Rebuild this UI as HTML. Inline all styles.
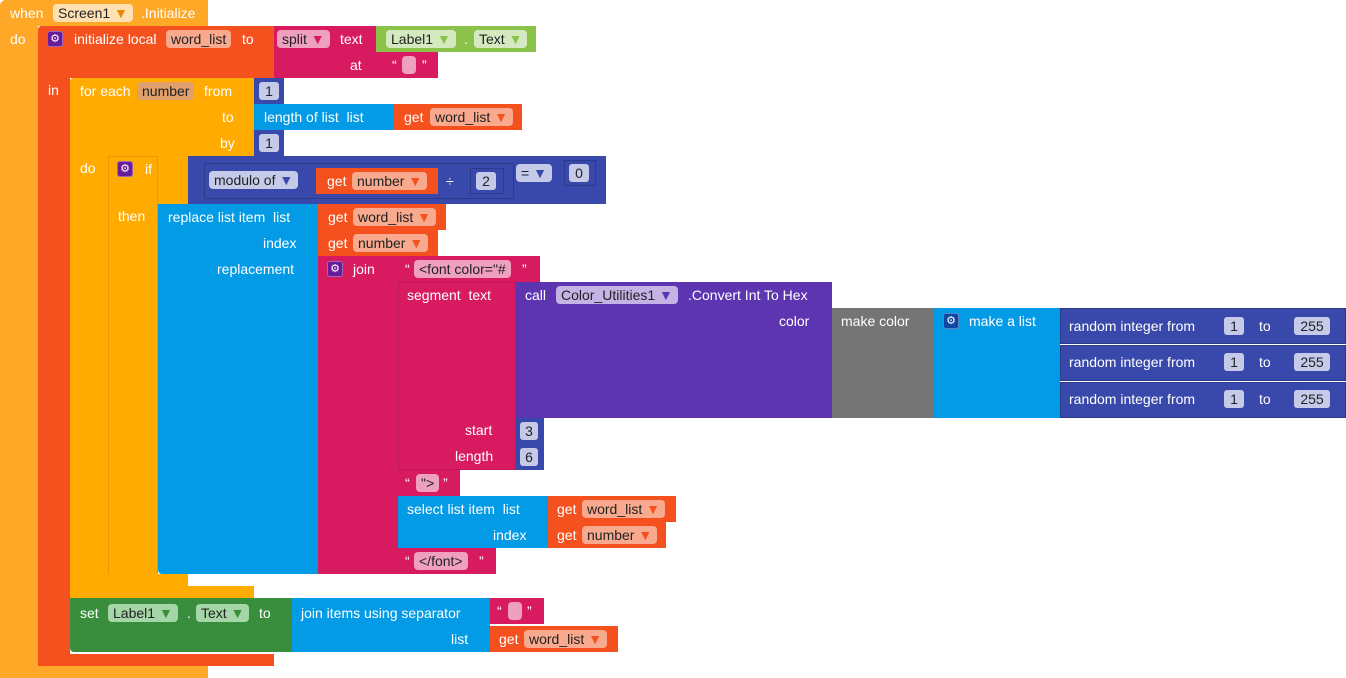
<!DOCTYPE html>
<html><head><meta charset="utf-8"><style>
body{margin:0;width:1346px;height:678px;background:#fff;position:relative;overflow:hidden;font-family:"Liberation Sans",sans-serif;font-size:14px;color:#fff}
.b{position:absolute;box-sizing:border-box}
.t{position:absolute;white-space:nowrap;line-height:16px}
.f{position:absolute;white-space:nowrap;line-height:18px;height:18px;border-radius:4px;padding:0 5px;color:#222;box-sizing:border-box}
.n{position:absolute;height:18px;line-height:18px;border-radius:3px;background:#c5cae9;color:#222;text-align:center;font-size:14px}
.g{position:absolute;width:16px;height:16px;border-radius:3px;background:#6a1b9a;border:1px solid #fff5;box-sizing:border-box;color:#fff;font-size:11px;line-height:14px;text-align:center}
</style></head><body>
<!-- event -->
<div class="b" style="left:0;top:0;width:208px;height:26px;background:#FFA726;border-radius:6px 0 0 0"></div>
<div class="b" style="left:0;top:0;width:38px;height:678px;background:#FFA726;border-radius:6px 0 0 6px"></div>
<div class="b" style="left:0;top:666px;width:208px;height:12px;background:#FFA726"></div>
<span class="t" style="left:10px;top:5px">when</span>
<span class="f" style="left:53px;top:4px;background:#FFE0B2">Screen1 <span style="color:#e58a00">▼</span></span>
<span class="t" style="left:141px;top:5px">.Initialize</span>
<span class="t" style="left:10px;top:31px">do</span>
<!-- init local -->
<div class="b" style="left:38px;top:26px;width:236px;height:52px;background:#F4511E;border-radius:4px 0 0 0"></div>
<div class="b" style="left:38px;top:26px;width:32px;height:640px;background:#F4511E;border-radius:4px 0 0 4px"></div>
<div class="b" style="left:38px;top:654px;width:236px;height:12px;background:#F4511E"></div>
<div class="g" style="left:47px;top:31px">⚙</div>
<span class="t" style="left:74px;top:31px">initialize local</span>
<span class="f" style="left:166px;top:30px;background:#f8a98e">word_list</span>
<span class="t" style="left:242px;top:31px">to</span>
<span class="t" style="left:48px;top:82px">in</span>
<!-- split -->
<div class="b" style="left:274px;top:26px;width:102px;height:26px;background:#D81B60"></div>
<div class="b" style="left:274px;top:52px;width:164px;height:26px;background:#D81B60"></div>
<span class="f" style="left:277px;top:30px;background:#f0a0bf">split <span style="color:#D81B60">▼</span></span>
<span class="t" style="left:340px;top:31px">text</span>
<span class="t" style="left:350px;top:57px">at</span>
<span class="t" style="left:392px;top:57px">“</span><span class="f" style="left:402px;top:56px;width:14px;background:#f0a0bf"></span><span class="t" style="left:422px;top:57px">”</span>
<div class="b" style="left:376px;top:26px;width:160px;height:26px;background:#8BC34A"></div>
<span class="f" style="left:386px;top:30px;background:#d4e9bf">Label1 <span style="color:#8BC34A">▼</span></span>
<span class="t" style="left:464px;top:31px;color:#fff">.</span>
<span class="f" style="left:474px;top:30px;background:#d4e9bf">Text <span style="color:#8BC34A">▼</span></span>
<!-- for each -->
<div class="b" style="left:70px;top:78px;width:184px;height:78px;background:#FFAB00;border-radius:4px 0 0 0"></div>
<div class="b" style="left:70px;top:78px;width:38px;height:520px;background:#FFAB00;border-radius:4px 0 0 4px"></div>
<div class="b" style="left:70px;top:586px;width:184px;height:12px;background:#FFAB00"></div>
<span class="t" style="left:80px;top:83px">for each</span>
<span class="f" style="left:137px;top:82px;background:#e0a06c">number</span>
<span class="t" style="left:204px;top:83px">from</span>
<span class="t" style="left:222px;top:109px">to</span>
<span class="t" style="left:220px;top:135px">by</span>
<span class="t" style="left:80px;top:160px">do</span>
<div class="b" style="left:254px;top:78px;width:30px;height:26px;background:#3949AB"></div><span class="n" style="left:259px;top:82px;width:20px">1</span>
<div class="b" style="left:254px;top:130px;width:30px;height:26px;background:#3949AB"></div><span class="n" style="left:259px;top:134px;width:20px">1</span>
<div class="b" style="left:254px;top:104px;width:140px;height:26px;background:#039BE5"></div>
<span class="t" style="left:264px;top:109px">length of list&nbsp; list</span>
<div class="b" style="left:394px;top:104px;width:128px;height:26px;background:#F4511E"></div>
<span class="t" style="left:404px;top:109px">get</span><span class="f" style="left:430px;top:108px;background:#f8a98e">word_list <span style="color:#F4511E">▼</span></span>
<!-- if -->
<div class="b" style="left:108px;top:156px;width:80px;height:48px;background:#FFAB00;border-radius:4px 0 0 0"></div>
<div class="b" style="left:108px;top:156px;width:50px;height:430px;background:#FFAB00;border:1px solid #e89a00"></div>
<div class="b" style="left:108px;top:574px;width:80px;height:12px;background:#FFAB00"></div>
<div class="g" style="left:117px;top:161px">⚙</div>
<span class="t" style="left:145px;top:161px">if</span>
<span class="t" style="left:118px;top:208px">then</span>
<div class="b" style="left:188px;top:156px;width:418px;height:48px;background:#3949AB"></div>
<div class="b" style="left:204px;top:163px;width:310px;height:36px;background:#3949AB;border:1px solid #2c3a8c"></div>
<span class="f" style="left:209px;top:171px;background:#c5cae9">modulo of <span style="color:#3949AB">▼</span></span>
<div class="b" style="left:316px;top:168px;width:122px;height:26px;background:#F4511E"></div>
<span class="t" style="left:327px;top:173px">get</span><span class="f" style="left:352px;top:172px;background:#f8a98e">number <span style="color:#F4511E">▼</span></span>
<span class="t" style="left:446px;top:173px">÷</span>
<div class="b" style="left:470px;top:168px;width:34px;height:26px;border:1px solid #2c3a8c"></div><span class="n" style="left:476px;top:172px;width:20px">2</span>
<span class="f" style="left:516px;top:164px;background:#c5cae9">= <span style="color:#3949AB">▼</span></span>
<div class="b" style="left:564px;top:160px;width:32px;height:26px;border:1px solid #2c3a8c"></div><span class="n" style="left:569px;top:164px;width:20px">0</span>
<!-- replace -->
<div class="b" style="left:158px;top:204px;width:160px;height:370px;background:#039BE5;border-radius:0 0 0 4px"></div>
<span class="t" style="left:168px;top:209px">replace list item&nbsp; list</span>
<span class="t" style="left:263px;top:235px">index</span>
<span class="t" style="left:217px;top:261px">replacement</span>
<div class="b" style="left:318px;top:204px;width:128px;height:26px;background:#F4511E"></div>
<span class="t" style="left:328px;top:209px">get</span><span class="f" style="left:353px;top:208px;background:#f8a98e">word_list <span style="color:#F4511E">▼</span></span>
<div class="b" style="left:318px;top:230px;width:120px;height:26px;background:#F4511E"></div>
<span class="t" style="left:328px;top:235px">get</span><span class="f" style="left:353px;top:234px;background:#f8a98e">number <span style="color:#F4511E">▼</span></span>
<!-- join -->
<div class="b" style="left:318px;top:256px;width:80px;height:318px;background:#D81B60"></div>
<div class="g" style="left:327px;top:261px">⚙</div>
<span class="t" style="left:353px;top:261px">join</span>
<div class="b" style="left:398px;top:256px;width:142px;height:26px;background:#D81B60"></div>
<span class="t" style="left:405px;top:261px">“</span><span class="f" style="left:414px;top:260px;background:#f0a0bf">&lt;font color="#</span><span class="t" style="left:522px;top:261px">”</span>
<div class="b" style="left:398px;top:282px;width:118px;height:188px;background:#D81B60;border:1px solid #c2185b"></div>
<span class="t" style="left:407px;top:287px">segment&nbsp; text</span>
<span class="t" style="left:465px;top:422px">start</span>
<span class="t" style="left:455px;top:448px">length</span>
<div class="b" style="left:516px;top:418px;width:28px;height:26px;background:#3949AB"></div><span class="n" style="left:520px;top:422px;width:18px">3</span>
<div class="b" style="left:516px;top:444px;width:28px;height:26px;background:#3949AB"></div><span class="n" style="left:520px;top:448px;width:18px">6</span>
<!-- call -->
<div class="b" style="left:516px;top:282px;width:316px;height:136px;background:#5E35B1"></div>
<span class="t" style="left:525px;top:287px">call</span>
<span class="f" style="left:556px;top:286px;background:#c5b3e6">Color_Utilities1 <span style="color:#5E35B1">▼</span></span>
<span class="t" style="left:688px;top:287px">.Convert Int To Hex</span>
<span class="t" style="left:779px;top:313px">color</span>
<div class="b" style="left:832px;top:308px;width:102px;height:110px;background:#757575"></div>
<span class="t" style="left:841px;top:313px">make color</span>
<div class="b" style="left:934px;top:308px;width:126px;height:110px;background:#039BE5"></div>
<div class="g" style="left:943px;top:313px;background:#0d47a1">⚙</div>
<span class="t" style="left:969px;top:313px">make a list</span>
<div class="b" style="left:1060px;top:308px;width:286px;height:36px;background:#3949AB;border:1px solid #2c3a8c"></div>
<div class="b" style="left:1060px;top:345px;width:286px;height:36px;background:#3949AB;border:1px solid #2c3a8c"></div>
<div class="b" style="left:1060px;top:382px;width:286px;height:36px;background:#3949AB;border:1px solid #2c3a8c"></div>
<span class="t" style="left:1069px;top:318px">random integer from</span><span class="n" style="left:1224px;top:317px;width:20px">1</span><span class="t" style="left:1259px;top:318px">to</span><span class="n" style="left:1294px;top:317px;width:36px">255</span>
<span class="t" style="left:1069px;top:354px">random integer from</span><span class="n" style="left:1224px;top:353px;width:20px">1</span><span class="t" style="left:1259px;top:354px">to</span><span class="n" style="left:1294px;top:353px;width:36px">255</span>
<span class="t" style="left:1069px;top:391px">random integer from</span><span class="n" style="left:1224px;top:390px;width:20px">1</span><span class="t" style="left:1259px;top:391px">to</span><span class="n" style="left:1294px;top:390px;width:36px">255</span>
<!-- ">" -->
<div class="b" style="left:398px;top:470px;width:62px;height:26px;background:#D81B60"></div>
<span class="t" style="left:405px;top:475px">“</span><span class="f" style="left:416px;top:474px;background:#f0a0bf">"&gt;</span><span class="t" style="left:443px;top:475px">”</span>
<div class="b" style="left:398px;top:496px;width:150px;height:52px;background:#039BE5"></div>
<span class="t" style="left:407px;top:501px">select list item&nbsp; list</span>
<span class="t" style="left:493px;top:527px">index</span>
<div class="b" style="left:548px;top:496px;width:128px;height:26px;background:#F4511E"></div>
<span class="t" style="left:557px;top:501px">get</span><span class="f" style="left:582px;top:500px;background:#f8a98e">word_list <span style="color:#F4511E">▼</span></span>
<div class="b" style="left:548px;top:522px;width:118px;height:26px;background:#F4511E"></div>
<span class="t" style="left:557px;top:527px">get</span><span class="f" style="left:582px;top:526px;background:#f8a98e">number <span style="color:#F4511E">▼</span></span>
<div class="b" style="left:398px;top:548px;width:98px;height:26px;background:#D81B60"></div>
<span class="t" style="left:405px;top:553px">“</span><span class="f" style="left:414px;top:552px;background:#f0a0bf">&lt;/font&gt;</span><span class="t" style="left:479px;top:553px">”</span>
<!-- set -->
<div class="b" style="left:70px;top:598px;width:222px;height:54px;background:#388E3C;border-radius:0 0 0 4px"></div>
<span class="t" style="left:80px;top:605px">set</span>
<span class="f" style="left:108px;top:604px;background:#a5d6a7">Label1 <span style="color:#388E3C">▼</span></span>
<span class="t" style="left:187px;top:605px">.</span>
<span class="f" style="left:196px;top:604px;background:#a5d6a7">Text <span style="color:#388E3C">▼</span></span>
<span class="t" style="left:259px;top:605px">to</span>
<div class="b" style="left:292px;top:598px;width:198px;height:54px;background:#039BE5"></div>
<span class="t" style="left:301px;top:605px">join items using separator</span>
<span class="t" style="left:451px;top:631px">list</span>
<div class="b" style="left:490px;top:598px;width:54px;height:26px;background:#D81B60"></div>
<span class="t" style="left:497px;top:603px">“</span><span class="f" style="left:508px;top:602px;width:14px;background:#f0a0bf"></span><span class="t" style="left:527px;top:603px">”</span>
<div class="b" style="left:490px;top:626px;width:128px;height:26px;background:#F4511E"></div>
<span class="t" style="left:499px;top:631px">get</span><span class="f" style="left:524px;top:630px;background:#f8a98e">word_list <span style="color:#F4511E">▼</span></span>
</body></html>
